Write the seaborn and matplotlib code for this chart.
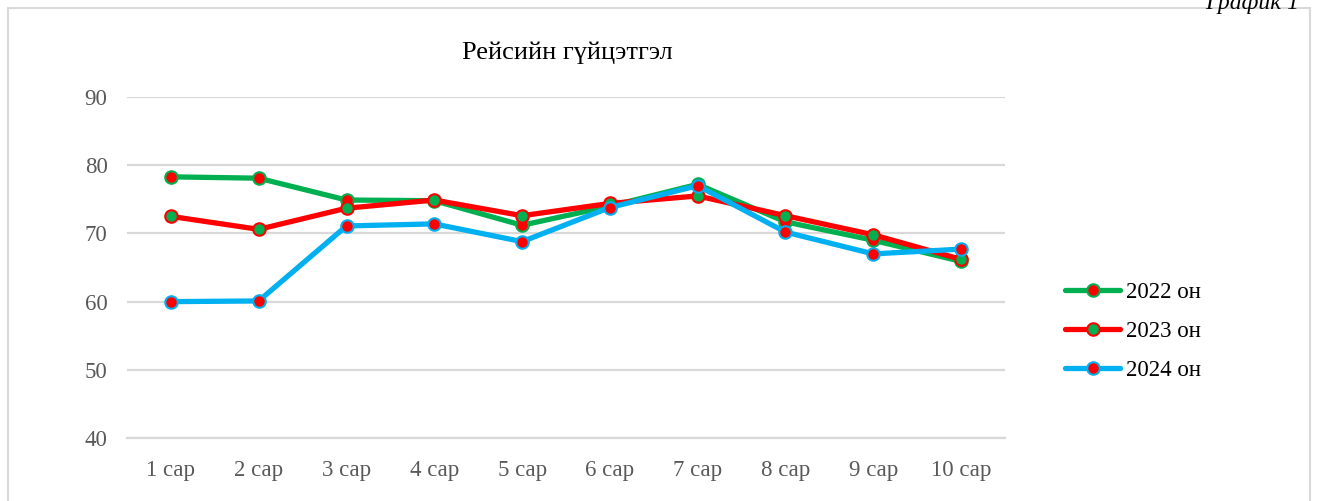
import numpy as np
import pandas as pd
import matplotlib
matplotlib.use("Agg")
import matplotlib.pyplot as plt
import seaborn as sns
from matplotlib.patches import Rectangle

# --- data ---
months = ["1 сар", "2 сар", "3 сар", "4 сар", "5 сар",
          "6 сар", "7 сар", "8 сар", "9 сар", "10 сар"]
years = ["2022 он", "2023 он", "2024 он"]
vals_2022 = [78.3, 78.1, 74.9, 74.8, 71.2, 74.0, 77.2, 71.7, 69.0, 65.9]
vals_2023 = [72.5, 70.6, 73.7, 74.9, 72.6, 74.4, 75.5, 72.6, 69.8, 66.2]
vals_2024 = [60.0, 60.1, 71.1, 71.4, 68.8, 73.8, 77.0, 70.2, 67.0, 67.7]

line_colors = ["#00B050", "#FF0000", "#00B0F0"]
marker_faces = ["#FF0000", "#00B050", "#FF0000"]

df = pd.DataFrame({
    "month": months * 3,
    "year": np.repeat(years, len(months)),
    "value": vals_2022 + vals_2023 + vals_2024,
})

sns.set_theme(style="white")
plt.rcParams["font.family"] = ["Liberation Serif", "DejaVu Serif"]

fig = plt.figure(figsize=(13.19, 5.01), dpi=100)
ax = fig.add_axes([0.0963, 0.1257, 0.6656, 0.6806])

for year, lc, mf in zip(years, line_colors, marker_faces):
    sub = df[df["year"] == year]
    sns.lineplot(data=sub, x="month", y="value", ax=ax, color=lc,
                 linewidth=3.8, marker="o", markersize=9,
                 markerfacecolor=mf, markeredgecolor=lc,
                 markeredgewidth=1.5, label=year, sort=False)

ax.set_ylim(40, 90)
ax.set_xlim(-0.5, len(months) - 0.5)
ax.set_yticks([40, 50, 60, 70, 80, 90])
ax.yaxis.grid(True, color="#D9D9D9", linewidth=1.6)
ax.set_axisbelow(True)
for s in ["top", "right", "left"]:
    ax.spines[s].set_visible(False)
ax.spines["bottom"].set_color("#D9D9D9")
ax.spines["bottom"].set_linewidth(1.6)
ax.tick_params(axis="both", labelsize=16.5, colors="#595959", length=0)
ax.tick_params(axis="x", pad=16)
ax.tick_params(axis="y", pad=14)
ax.set_xlabel("")
ax.set_ylabel("")

fig.text(0.43, 0.894, "Рейсийн гүйцэтгэл", fontsize=19, ha="center",
         va="center", color="#000000")

leg = ax.legend(loc="center left", bbox_to_anchor=(1.045, 0.313),
                frameon=False, fontsize=16.5, handlelength=2.4,
                labelspacing=0.78, handletextpad=0.25)
for t in leg.get_texts():
    t.set_color("#000000")

# chart border and caption
fig.patches.append(Rectangle((8 / 1319, -0.05), 1302 / 1319, 1.034,
                             transform=fig.transFigure, fill=False,
                             edgecolor="#D9D9D9", linewidth=1.5))
fig.text(0.985, 0.993, "График 1", fontsize=17, style="italic", ha="right",
         va="center", color="#000000")

fig.savefig("out.png", dpi=100)
